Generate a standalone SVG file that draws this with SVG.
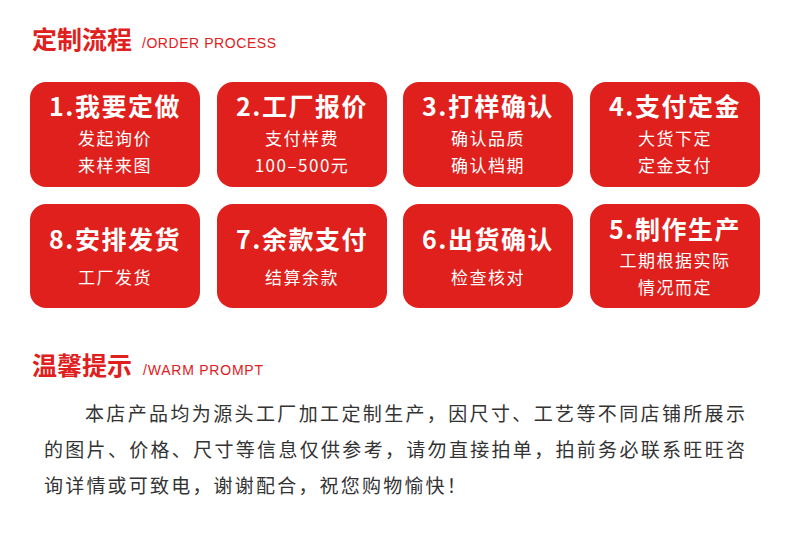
<svg xmlns="http://www.w3.org/2000/svg" width="790" height="538" viewBox="0 0 790 538">
<style>
.bg{fill:#ffffff}
.box{fill:#e0201c}
.h{font-family:"Noto Sans CJK SC","Noto Sans",sans-serif;font-weight:bold;font-size:25px;fill:#e0201c}
.en{font-family:"Liberation Sans",Arial,sans-serif;font-size:14px;fill:#e0201c}
.t{font-family:"Noto Sans CJK SC","Noto Sans",sans-serif;font-weight:bold;font-size:25px;fill:#ffffff;text-anchor:middle;letter-spacing:1.5px}
.s{font-family:"Noto Sans CJK SC","Noto Sans",sans-serif;font-size:17px;fill:#ffffff;text-anchor:middle;letter-spacing:1.5px}
.p{font-family:"Noto Sans CJK SC","Noto Sans",sans-serif;font-size:19px;fill:#333333;font-weight:normal}
</style>
<rect class="bg" x="0" y="0" width="790" height="538"/>
<g id="header1">
<text class="h" x="32" y="49">定制流程</text>
<text class="en" x="142" y="48" textLength="134">/ORDER PROCESS</text>
</g>
<g id="connectors"></g>
<g id="node1">
<rect class="box" x="30" y="82" width="170" height="105" rx="16"/>
<text class="t" x="115" y="116">1.我要定做</text>
<text class="s" x="115" y="145">发起询价</text>
<text class="s" x="115" y="172">来样来图</text>
</g>
<g id="node2">
<rect class="box" x="217" y="82" width="170" height="105" rx="16"/>
<text class="t" x="302" y="116">2.工厂报价</text>
<text class="s" x="302" y="145">支付样费</text>
<text class="s" x="302" y="172">100–500元</text>
</g>
<g id="node3">
<rect class="box" x="403" y="82" width="170" height="105" rx="16"/>
<text class="t" x="488" y="116">3.打样确认</text>
<text class="s" x="488" y="145">确认品质</text>
<text class="s" x="488" y="172">确认档期</text>
</g>
<g id="node4">
<rect class="box" x="590" y="82" width="170" height="105" rx="16"/>
<text class="t" x="675" y="116">4.支付定金</text>
<text class="s" x="675" y="145">大货下定</text>
<text class="s" x="675" y="172">定金支付</text>
</g>
<g id="node8">
<rect class="box" x="30" y="204" width="170" height="104" rx="16"/>
<text class="t" x="115" y="249">8.安排发货</text>
<text class="s" x="115" y="284">工厂发货</text>
</g>
<g id="node7">
<rect class="box" x="217" y="204" width="170" height="104" rx="16"/>
<text class="t" x="302" y="249">7.余款支付</text>
<text class="s" x="302" y="284">结算余款</text>
</g>
<g id="node6">
<rect class="box" x="403" y="204" width="170" height="104" rx="16"/>
<text class="t" x="488" y="249">6.出货确认</text>
<text class="s" x="488" y="284">检查核对</text>
</g>
<g id="node5">
<rect class="box" x="590" y="204" width="170" height="104" rx="16"/>
<text class="t" x="675" y="239">5.制作生产</text>
<text class="s" x="675" y="267">工期根据实际</text>
<text class="s" x="675" y="294">情况而定</text>
</g>
<g id="header2">
<text class="h" x="32" y="375">温馨提示</text>
<text class="en" x="143" y="375" textLength="120">/WARM PROMPT</text>
</g>
<g id="notice">
<text class="p" x="85" y="421" textLength="660" lengthAdjust="spacing">本店产品均为源头工厂加工定制生产，因尺寸、工艺等不同店铺所展示</text>
<text class="p" x="44" y="457" textLength="701" lengthAdjust="spacing">的图片、价格、尺寸等信息仅供参考，请勿直接拍单，拍前务必联系旺旺咨</text>
<text class="p" x="44" y="493" letter-spacing="2.2">询详情或可致电，谢谢配合，祝您购物愉快！</text>
</g>
</svg>
